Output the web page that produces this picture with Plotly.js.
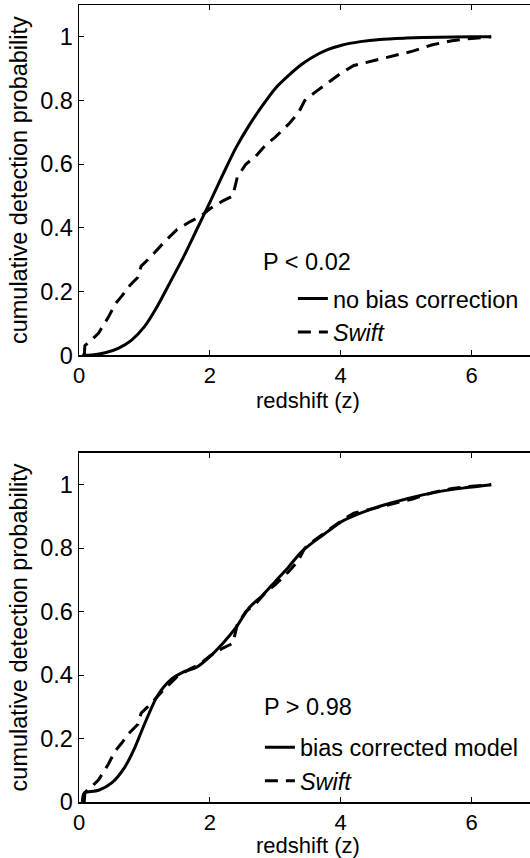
<!DOCTYPE html>
<html>
<head>
<meta charset="utf-8">
<script src="https://cdn.plot.ly/plotly-3.0.1.min.js"></script>
<style>
html,body{margin:0;padding:0;overflow:hidden;background:#fff;}
#chart{width:545px;height:858px;}
</style>
</head>
<body>
<div id="chart"></div>
<script>
// ---- Data ----
// Top panel: model without bias correction
const zNoBias = [0.05, 0.2, 0.4, 0.6, 0.8, 1.0, 1.2, 1.4, 1.6, 1.8, 2.0, 2.2, 2.4, 2.6, 2.8, 3.0, 3.2, 3.4, 3.6, 3.8, 4.0, 4.3, 4.6, 5.0, 5.5, 6.0, 6.3];
const pNoBias = [0, 0.001, 0.008, 0.022, 0.047, 0.09, 0.155, 0.232, 0.31, 0.395, 0.48, 0.568, 0.652, 0.722, 0.783, 0.838, 0.878, 0.913, 0.94, 0.96, 0.973, 0.985, 0.992, 0.996, 0.999, 1.0, 1.0];

// Swift observed cumulative distribution (same in both panels)
const zSwift = [0.08, 0.09, 0.2, 0.3, 0.45, 0.55, 0.65, 0.78, 0.9, 0.95, 1.1, 1.3, 1.5, 1.7, 1.85, 2.0, 2.2, 2.35, 2.42, 2.55, 2.7, 2.85, 3.0, 3.2, 3.35, 3.45, 3.6, 3.8, 4.0, 4.2, 4.5, 4.8, 5.1, 5.4, 5.7, 6.0, 6.3];
const pSwift = [0, 0.03, 0.05, 0.07, 0.12, 0.16, 0.185, 0.22, 0.245, 0.28, 0.31, 0.355, 0.395, 0.42, 0.435, 0.46, 0.485, 0.5, 0.56, 0.6, 0.625, 0.66, 0.685, 0.725, 0.76, 0.8, 0.825, 0.855, 0.885, 0.91, 0.925, 0.938, 0.955, 0.975, 0.988, 0.995, 1.0];

// Bottom panel: bias corrected model
const zCorrected = [0.05, 0.07, 0.1, 0.3, 0.5, 0.7, 0.85, 1.0, 1.2, 1.4, 1.6, 1.8, 2.0, 2.2, 2.4, 2.6, 2.8, 3.0, 3.2, 3.4, 3.6, 3.8, 4.0, 4.3, 4.6, 5.0, 5.5, 5.9, 6.3];
const pCorrected = [0, 0.025, 0.03, 0.037, 0.06, 0.11, 0.17, 0.245, 0.335, 0.385, 0.41, 0.425, 0.458, 0.5, 0.55, 0.612, 0.65, 0.695, 0.74, 0.788, 0.822, 0.852, 0.882, 0.91, 0.932, 0.955, 0.978, 0.99, 1.0];

const xTickVals = [0, 2, 4, 6];
const yTickVals = [0, 0.2, 0.4, 0.6, 0.8, 1];
const labelNoBias = "no bias correction";
const labelCorrected = "bias corrected model";
const labelSwift = "<i>Swift</i>";
const xTitle = "redshift (z)";
const yTitle = "cumulative detection probability";
const statTop = "P < 0.02";
const statBottom = "P > 0.98";

// ---- Styling ----
const FONT = "Liberation Sans, Arial, Helvetica, sans-serif";
const FS = 23.5;
const FT = 22;
const solid = {color: "#000", width: 3, shape: "spline", smoothing: 0.8};
const dashed = {color: "#000", width: 3, dash: "13px,8px"};

const traces = [
  {x: zNoBias, y: pNoBias, xaxis: "x", yaxis: "y", mode: "lines", line: solid, name: labelNoBias, legend: "legend"},
  {x: zSwift, y: pSwift, xaxis: "x", yaxis: "y", mode: "lines", line: dashed, name: labelSwift, legend: "legend"},
  {x: zCorrected, y: pCorrected, xaxis: "x2", yaxis: "y2", mode: "lines", line: solid, name: labelCorrected, legend: "legend2"},
  {x: zSwift, y: pSwift, xaxis: "x2", yaxis: "y2", mode: "lines", line: dashed, name: labelSwift, legend: "legend2"}
];

function xax(anchor) {
  return {
    anchor: anchor, range: [0, 7], tickvals: xTickVals, ticks: "inside", ticklen: 5,
    tickwidth: 1, tickcolor: "#000", showline: true, linecolor: "#000", linewidth: 1.5,
    mirror: "ticks", showgrid: false, zeroline: false,
    tickfont: {family: FONT, size: FT, color: "#000"},
    title: {text: xTitle, font: {family: FONT, size: FT, color: "#000"}, standoff: 4}
  };
}
function yax(anchor, domain) {
  return {
    anchor: anchor, domain: domain, range: [0, 1.1], tickvals: yTickVals, ticks: "inside", ticklen: 5,
    tickwidth: 1, tickcolor: "#000", showline: true, linecolor: "#000", linewidth: 1.5,
    mirror: "ticks", showgrid: false, zeroline: false,
    tickfont: {family: FONT, size: FS, color: "#000"},
    title: {text: yTitle, font: {family: FONT, size: FS, color: "#000"}, standoff: 6}
  };
}

const legendBase = {
  bgcolor: "rgba(0,0,0,0)", borderwidth: 0, xanchor: "left", yanchor: "top",
  font: {family: FONT, size: FS, color: "#000"}, tracegroupgap: 0, itemwidth: 30
};

const layout = {
  width: 545, height: 858,
  margin: {l: 79, r: 8, t: 5, b: 56},
  paper_bgcolor: "#fff", plot_bgcolor: "#fff",
  font: {family: FONT, size: FS, color: "#000"},
  showlegend: true,
  xaxis: xax("y"),
  yaxis: yax("x", [0.5605, 1]),
  xaxis2: xax("y2"),
  yaxis2: yax("x2", [0, 0.438]),
  legend: Object.assign({}, legendBase, {x: 0.467, y: 0.659}),
  legend2: Object.assign({}, legendBase, {x: 0.395, y: 0.096}),
  annotations: [
    {xref: "x", yref: "y", x: 3.48, y: 0.293, text: statTop, showarrow: false,
     font: {family: FONT, size: FS, color: "#000"}},
    {xref: "x2", yref: "y2", x: 3.5, y: 0.3, text: statBottom, showarrow: false,
     font: {family: FONT, size: FS, color: "#000"}}
  ]
};

Plotly.newPlot("chart", traces, layout, {staticPlot: true, displayModeBar: false});
</script>
</body>
</html>
